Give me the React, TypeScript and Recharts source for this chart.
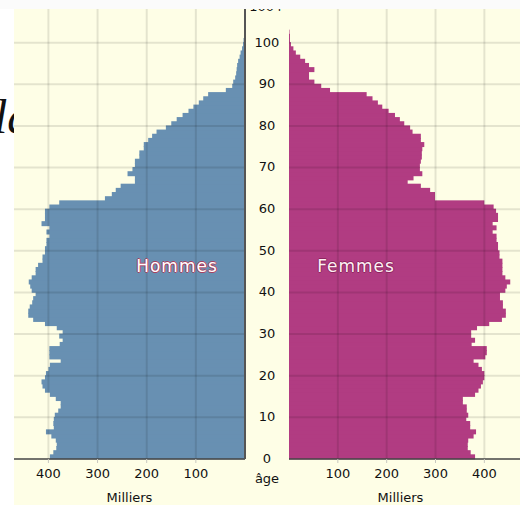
import React from "react";
import { BarChart, Bar, XAxis, YAxis, ReferenceLine } from "recharts";

// Population par âge, en milliers (âge 0 à 102)
const hommes = [
  397, 390, 384, 383, 385, 394, 405, 389, 390, 389,
  387, 380, 375, 375, 385, 397, 407, 412, 414, 407,
  405, 400, 397, 375, 398, 398, 398, 377, 371, 378,
  371, 383, 407, 431, 441, 441, 438, 433, 431, 426,
  434, 437, 440, 434, 426, 426, 421, 412, 412, 407,
  407, 404, 404, 398, 404, 398, 414, 407, 407, 407,
  398, 378, 285, 271, 263, 253, 224, 224, 239, 229,
  224, 224, 215, 215, 206, 206, 197, 189, 180, 161,
  150, 139, 127, 115, 105, 94, 85, 75, 39, 26,
  24, 20, 18, 17, 16, 14, 11, 9, 6, 4,
  3, 0, 0,
];

const femmes = [
  381, 372, 366, 366, 367, 378, 383, 371, 371, 363,
  367, 364, 364, 356, 356, 381, 388, 393, 397, 400,
  400, 395, 388, 378, 402, 405, 405, 374, 381, 373,
  373, 385, 410, 436, 444, 444, 438, 438, 432, 432,
  443, 446, 453, 443, 437, 437, 437, 437, 431, 431,
  428, 428, 425, 425, 417, 425, 417, 428, 428, 424,
  419, 400, 299, 299, 289, 270, 243, 255, 273, 268,
  268, 270, 272, 272, 273, 277, 270, 270, 253, 248,
  236, 227, 217, 204, 191, 182, 171, 159, 84, 66,
  52, 41, 41, 52, 41, 33, 23, 14, 9, 4,
  2, 2, 1,
];

const ageTicks = [0, 10, 20, 30, 40, 50, 60, 70, 80, 90, 100];
const topTick = 108.5;
const topLabel = "100+";
const milliersTicks = [100, 200, 300, 400];

const FONT = '"DejaVu Sans", Verdana, sans-serif';
const CREAM = "#fefee6";
const BLUE = "#6890b2";
const MAGENTA = "#b13c82";
const GRID = "rgba(0,0,0,0.1)";

// one row per year of age, bar centred in its year
const rows = hommes.map((h, i) => ({ age: i + 0.5, hommes: h, femmes: femmes[i] }));

const tickStyle = { fill: "#111", fontSize: 13, fontFamily: FONT };

function AgeTick(props: any) {
  const { y, payload } = props;
  const label = payload.value === topTick ? topLabel : payload.value;
  return (
    <text x={267} y={y} dy="0.3em" textAnchor="middle" fill="#111" fontSize={13} fontFamily={FONT}>
      {label}
    </text>
  );
}

// bar padded a little on both sides so neighbouring years show no seam
function YearBar(props: any) {
  const { x, y, width, height, fill } = props;
  if (!width || !height) return null;
  const left = width < 0 ? x + width : x;
  const top = height < 0 ? y + height : y;
  return (
    <rect x={left} y={top - 0.5} width={Math.abs(width)} height={Math.abs(height) + 1} fill={fill} />
  );
}

function gridLines() {
  return [
    ...ageTicks.slice(1).map((a) => (
      <ReferenceLine key={"h" + a} y={a} stroke={GRID} strokeWidth={2} />
    )),
    ...milliersTicks.map((v) => (
      <ReferenceLine key={"v" + v} x={v} stroke={GRID} strokeWidth={2} />
    )),
  ];
}

const outline = (c: string) =>
  `1px 0 0 ${c}, -1px 0 0 ${c}, 0 1px 0 ${c}, 0 -1px 0 ${c}`;

export default function App() {
  return (
    <div style={{ position: "absolute", left: 0, top: 0, width: 520, height: 505, overflow: "hidden", background: "#fff" }}>
      <div
        style={{
          position: "absolute",
          left: -6,
          top: 93,
          fontFamily: '"Liberation Serif", serif',
          fontStyle: "italic",
          fontSize: 48,
          lineHeight: "48px",
          color: "#111",
        }}
      >
        la
      </div>
      <div style={{ position: "absolute", left: 14, top: 0, width: 506, height: 505, background: CREAM }} />

      <div style={{ position: "absolute", left: 0, top: 0 }}>
        <BarChart
          width={289}
          height={505}
          data={rows}
          layout="vertical"
          margin={{ top: 1, right: 0, bottom: 0, left: 14 }}
          barCategoryGap={0}
          barGap={0}
        >
          <XAxis
            type="number"
            domain={[0, 470]}
            reversed
            ticks={milliersTicks}
            height={46}
            tick={tickStyle}
            tickSize={4}
            tickMargin={6}
            tickLine={{ stroke: "#c8c8c0" }}
            axisLine={{ stroke: "#444", strokeWidth: 1.5 }}
            label={{ value: "Milliers", position: "insideBottom", offset: 3, fill: "#111", fontSize: 13, fontFamily: FONT }}
          />
          <YAxis
            type="number"
            dataKey="age"
            orientation="right"
            reversed
            domain={[0, 110]}
            ticks={[...ageTicks, topTick]}
            interval={0}
            width={44}
            tickLine={false}
            axisLine={{ stroke: "#555", strokeWidth: 2 }}
            tick={(p: any) => <AgeTick {...p} />}
          />
          <Bar dataKey="hommes" fill={BLUE} shape={(p: any) => <YearBar {...p} />} isAnimationActive={false} />
          {gridLines()}
        </BarChart>
      </div>

      <div style={{ position: "absolute", left: 289, top: 0 }}>
        <BarChart
          width={231}
          height={505}
          data={rows}
          layout="vertical"
          margin={{ top: 1, right: 0, bottom: 0, left: 0 }}
          barCategoryGap={0}
          barGap={0}
        >
          <XAxis
            type="number"
            domain={[0, 473]}
            ticks={milliersTicks}
            height={46}
            tick={tickStyle}
            tickSize={4}
            tickMargin={6}
            tickLine={{ stroke: "#c8c8c0" }}
            axisLine={{ stroke: "#444", strokeWidth: 1.5 }}
            label={{ value: "Milliers", position: "insideBottom", offset: 3, dx: -4, fill: "#111", fontSize: 13, fontFamily: FONT }}
          />
          <YAxis
            type="number"
            dataKey="age"
            reversed
            domain={[0, 110]}
            width={0}
            tick={false}
            tickLine={false}
            axisLine={{ stroke: "#555", strokeWidth: 2 }}
          />
          <Bar dataKey="femmes" fill={MAGENTA} shape={(p: any) => <YearBar {...p} />} isAnimationActive={false} />
          {gridLines()}
        </BarChart>
      </div>

      <div
        style={{
          position: "absolute",
          left: 177,
          top: 266,
          transform: "translate(-50%, -50%)",
          fontFamily: FONT,
          fontSize: 17,
          lineHeight: "17px",
          letterSpacing: 1,
          color: "#fff",
          textShadow: outline("#a8405e"),
          whiteSpace: "nowrap",
        }}
      >
        Hommes
      </div>
      <div
        style={{
          position: "absolute",
          left: 356,
          top: 266,
          transform: "translate(-50%, -50%)",
          fontFamily: FONT,
          fontSize: 17,
          lineHeight: "17px",
          letterSpacing: 1,
          color: "#fdf0f4",
          textShadow: outline("#8e2660"),
          whiteSpace: "nowrap",
        }}
      >
        Femmes
      </div>
      <div
        style={{
          position: "absolute",
          left: 267,
          top: 472,
          transform: "translateX(-50%)",
          fontFamily: FONT,
          fontSize: 13,
          lineHeight: "13px",
          color: "#111",
        }}
      >
        âge
      </div>
      <div style={{ position: "absolute", left: 0, top: 0, width: 520, height: 9, background: "#fbfbfb" }} />
    </div>
  );
}
